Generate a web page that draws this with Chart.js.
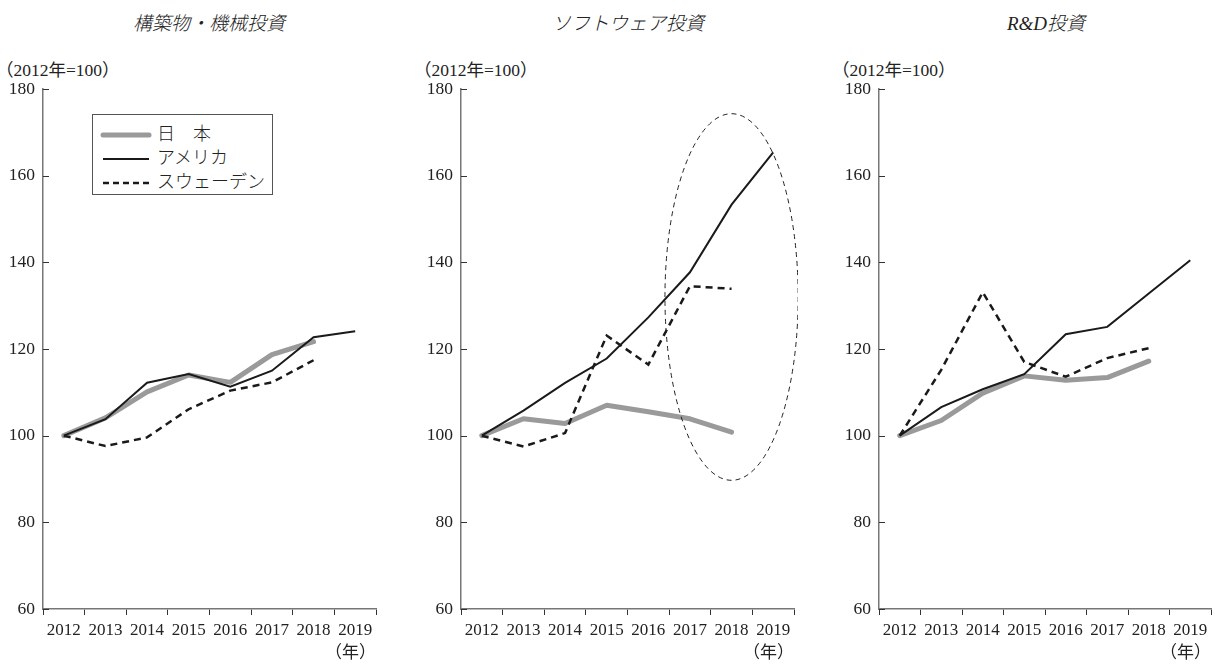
<!DOCTYPE html>
<html>
<head>
<meta charset="utf-8">
<script src="https://cdn.jsdelivr.net/npm/chart.js@4.4.1/dist/chart.umd.min.js"></script>
<style>
  body { margin: 0; background: #fff; }
  #wrap { position: relative; width: 1215px; height: 667px; overflow: hidden; font-family: 'Liberation Serif', 'Noto Sans CJK JP', serif; color: #222; }
  canvas { position: absolute; top: 60px; }
  .title { position: absolute; top: 8px; width: 300px; text-align: center; font-size: 19px; font-style: italic; font-weight: 300; font-family: 'Liberation Serif', 'Noto Sans CJK JP', serif; }
  .unit { position: absolute; top: 56px; font-size: 17.5px; }
  #legend { position: absolute; left: 92px; top: 114px; width: 181px; height: 81px; border: 1px solid #555; box-sizing: border-box; background: #fff; }
  #legend div { position: absolute; left: 7px; height: 22px; font-size: 18px; font-family: 'Noto Sans CJK JP', sans-serif; font-weight: 300; line-height: 22px; white-space: nowrap; }
  #legend svg { vertical-align: middle; margin-right: 5px; }
</style>
</head>
<body>
<div id="wrap">
  <div class="title" style="left:59px">構築物・機械投資</div>
  <div class="title" style="left:478px">ソフトウェア投資</div>
  <div class="title" style="left:896px">R&amp;D投資</div>
  <div class="unit" style="left:-4px">（2012年=100）</div>
  <div class="unit" style="left:414px">（2012年=100）</div>
  <div class="unit" style="left:832px">（2012年=100）</div>
  <canvas id="c1" width="380" height="607" style="left:0px"></canvas>
  <canvas id="c2" width="380" height="607" style="left:418px"></canvas>
  <canvas id="c3" width="379" height="607" style="left:836px"></canvas>
  <div id="legend">
    <div style="top:6px"><svg width="52" height="10"><line x1="3" y1="5" x2="49" y2="5" stroke="#9a9a9a" stroke-width="5" stroke-linecap="round"/></svg>日　本</div>
    <div style="top:30px"><svg width="52" height="10"><line x1="3" y1="5" x2="49" y2="5" stroke="#1a1a1a" stroke-width="2"/></svg>アメリカ</div>
    <div style="top:54px"><svg width="52" height="10"><line x1="3" y1="5" x2="49" y2="5" stroke="#1a1a1a" stroke-width="2.5" stroke-dasharray="6 4"/></svg>スウェーデン</div>
  </div>
</div>
<script>
const years = ['2012', '2013', '2014', '2015', '2016', '2017', '2018', '2019'];

const kozoJapan  = [100, 104.1, 110.1, 114.0, 112.3, 118.7, 121.7, null];
const kozoUSA    = [100, 103.8, 112.2, 114.2, 111.3, 115.0, 122.7, 124.1];
const kozoSweden = [100, 97.6, 99.6, 106.1, 110.4, 112.3, 117.4, null];

const softJapan  = [100, 103.9, 102.8, 107.0, 105.5, 103.9, 100.8, null];
const softUSA    = [100, 105.8, 112.2, 117.8, 127.3, 137.7, 153.3, 165.4];
const softSweden = [100, 97.5, 100.6, 123.1, 116.4, 134.5, 133.9, null];

const rdJapan  = [100, 103.5, 109.8, 113.8, 112.8, 113.4, 117.2, null];
const rdUSA    = [100, 106.6, 110.7, 114.2, 123.4, 125.1, 132.8, 140.5];
const rdSweden = [100, 115.2, 133.1, 117.0, 113.6, 117.9, 120.2, null];

// 点線の楕円（ソフトウェア投資の2018年付近）
const ellipseYear = '2018';
const ellipseTop = 174.3;
const ellipseBottom = 89.7;
const ellipseHalfWidth = 1.6; // カテゴリ幅の倍数

const fontFamily = "'Liberation Serif', 'Noto Sans CJK JP', serif";

// y軸の目盛り線（内側向き）
const innerTicks = {
  id: 'innerTicks',
  afterDraw(chart) {
    const ctx = chart.ctx;
    const y = chart.scales.y;
    const left = chart.chartArea.left;
    ctx.save();
    ctx.strokeStyle = '#333';
    ctx.lineWidth = 1;
    y.ticks.forEach((t, i) => {
      const py = Math.round(y.getPixelForTick(i)) + 0.5;
      ctx.beginPath();
      ctx.moveTo(left, py);
      ctx.lineTo(left + 6, py);
      ctx.stroke();
    });
    ctx.restore();
  }
};

const ellipsePlugin = {
  id: 'ellipse',
  afterDatasetsDraw(chart) {
    const x = chart.scales.x, y = chart.scales.y;
    const idx = years.indexOf(ellipseYear);
    const cx = x.getPixelForValue(idx);
    const step = x.getPixelForValue(1) - x.getPixelForValue(0);
    const top = y.getPixelForValue(ellipseTop);
    const bottom = y.getPixelForValue(ellipseBottom);
    const ctx = chart.ctx;
    ctx.save();
    ctx.strokeStyle = '#222';
    ctx.lineWidth = 1;
    ctx.setLineDash([5, 4]);
    ctx.beginPath();
    ctx.ellipse(cx, (top + bottom) / 2, step * ellipseHalfWidth, (bottom - top) / 2, 0, 0, Math.PI * 2);
    ctx.stroke();
    ctx.restore();
  }
};

function criarPainel(canvasId, japan, usa, sweden, extraPlugins) {
  const ctx = document.getElementById(canvasId).getContext('2d');
  return new Chart(ctx, {
    type: 'line',
    data: {
      labels: years,
      datasets: [
        { label: '日本', data: japan, borderColor: '#9a9a9a', borderWidth: 5, borderCapStyle: 'round', borderJoinStyle: 'round', order: 3 },
        { label: 'アメリカ', data: usa, borderColor: '#1a1a1a', borderWidth: 2, order: 2 },
        { label: 'スウェーデン', data: sweden, borderColor: '#1a1a1a', borderWidth: 2.5, borderDash: [7, 5], order: 1 }
      ]
    },
    options: {
      responsive: false,
      animation: false,
      devicePixelRatio: 1,
      layout: { padding: { top: 29, right: 4, bottom: 0, left: 0 } },
      elements: { point: { radius: 0 }, line: { tension: 0, fill: false } },
      scales: {
        x: {
          offset: true,
          afterFit: s => { s.height = 58; },
          grid: { offset: true, drawOnChartArea: false, drawTicks: true, tickLength: 6, color: '#333' },
          border: { display: true, color: '#777', width: 1.5 },
          ticks: { color: '#222', padding: 5, maxRotation: 0, autoSkip: false, font: { family: fontFamily, size: 17 } },
          title: { display: true, text: '（年）', align: 'end', color: '#222', padding: { top: 0, bottom: 3 }, font: { family: fontFamily, size: 17 } }
        },
        y: {
          min: 60,
          max: 180,
          afterFit: s => { s.width = 43; },
          grid: { drawOnChartArea: false, drawTicks: false },
          border: { display: true, color: '#777', width: 1.5 },
          ticks: { stepSize: 20, color: '#222', padding: 8, font: { family: fontFamily, size: 17.5 } }
        }
      },
      plugins: {
        legend: { display: false },
        tooltip: { enabled: false }
      }
    },
    plugins: [innerTicks].concat(extraPlugins || [])
  });
}

criarPainel('c1', kozoJapan, kozoUSA, kozoSweden);
criarPainel('c2', softJapan, softUSA, softSweden, [ellipsePlugin]);
criarPainel('c3', rdJapan, rdUSA, rdSweden);
</script>
</body>
</html>
